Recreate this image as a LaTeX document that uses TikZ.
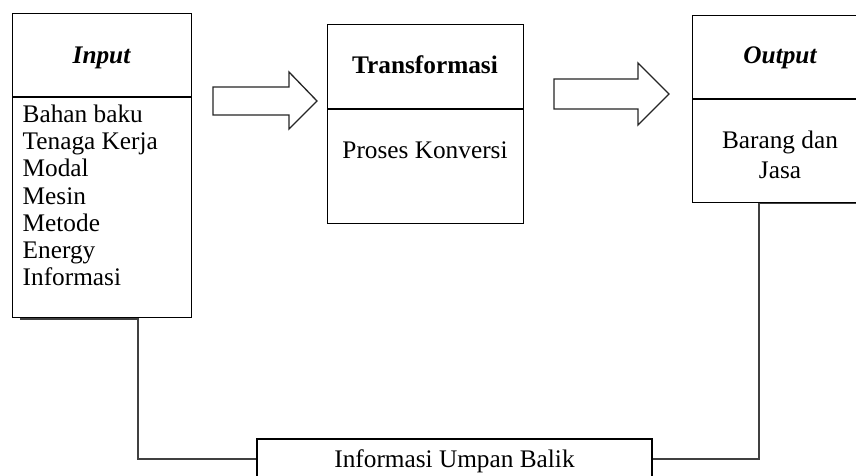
\documentclass[tikz,border=0pt]{standalone}
\usepackage{fontspec}
\setmainfont{Liberation Serif}
\newcommand{\mysize}{\fontsize{25.3}{27.3}\selectfont}
\tikzset{
  box/.style={draw=black, line width=1.2pt, rectangle, inner sep=0pt, anchor=north west},
  divider/.style={draw=black, line width=1.2pt},
  blockarrow/.style={draw=black!85, line width=1.3pt, line join=miter, fill=white},
  fbline/.style={draw=black!75, line width=1.6pt},
  txt/.style={inner sep=0pt, font=\mysize},
}
\begin{document}
\begin{tikzpicture}[x=1pt, y=-1pt]
\useasboundingbox (0,0) rectangle (856,476);
\fill[white] (0,0) rectangle (856,476);

% Input box
\node[box, minimum width=179pt, minimum height=304pt] (in) at (12,13) {};
\draw[divider] (12,97) -- (191,97);
\node[txt, anchor=base, font=\mysize\bfseries\itshape] (intitle) at (101.5,63.3) {Input};
\node[txt, anchor=north west, align=left] (inlist) at (22.5,104.4)
  {Bahan baku\\Tenaga Kerja\\Modal\\Mesin\\Metode\\Energy\\Informasi};

% Transformasi box
\node[box, minimum width=196pt, minimum height=199pt] (tr) at (327,24) {};
\draw[divider] (327,109) -- (523,109);
\node[txt, anchor=base, font=\mysize\bfseries] (trtitle) at (425,73.3) {Transformasi};
\node[txt, anchor=base] (trtext) at (425,158) {Proses Konversi};

% Output box
\node[box, minimum width=176pt, minimum height=187pt] (out) at (692,15) {};
\draw[divider] (692,99) -- (868,99);
\node[txt, anchor=base, font=\mysize\bfseries\itshape] (outtitle) at (780,64) {Output};
\node[txt, anchor=north, align=center, font=\fontsize{25.3}{30}\selectfont] (outtext) at (780,131) {Barang dan\\Jasa};

% Block arrows
\draw[blockarrow] (213,87) -- (289,87) -- (289,72) -- (317,101) -- (289,129) -- (289,115) -- (213,115) -- cycle;
\draw[blockarrow] (554,79) -- (638,79) -- (638,63) -- (669,94) -- (638,125) -- (638,109) -- (554,109) -- cycle;

% Feedback box
\node[box, anchor=center, minimum width=395pt, minimum height=40pt, text height=17.3pt, text depth=0pt, font=\mysize] (fb) at (454.5,459) {Informasi Umpan Balik};

% Feedback connectors
\coordinate (la) at (20,318.8);
\coordinate (lb) at (138,318.8);
\draw[fbline] (la) -- (lb) |- (fb.west);
\coordinate (ra) at (868,203.3);
\coordinate (rb) at (759,203.3);
\draw[fbline] (ra) -- (rb) |- (fb.east);
\end{tikzpicture}
\end{document}
